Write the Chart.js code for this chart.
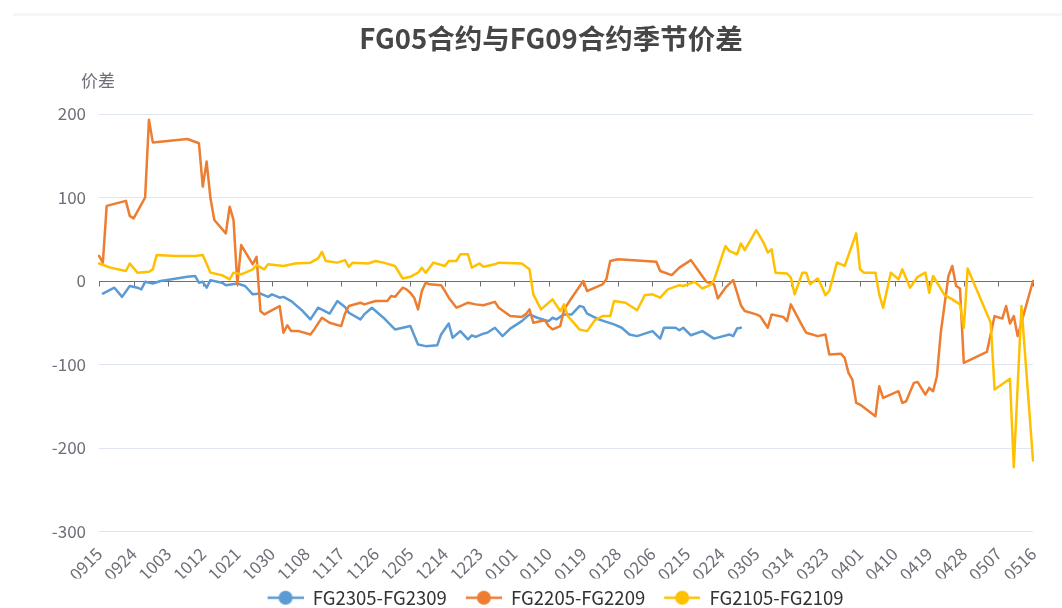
<!DOCTYPE html>
<html>
<head>
<meta charset="utf-8">
<title>FG05合约与FG09合约季节价差</title>
<script src="https://cdn.jsdelivr.net/npm/chart.js@4.4.1/dist/chart.umd.min.js"></script>
<style>
  html, body { margin: 0; padding: 0; background: #fff; }
  #wrap { position: relative; width: 1062px; height: 608px; overflow: hidden; }
  #topline { position: absolute; left: 13px; right: 0; top: 13px; height: 3px; background: #f6f6f6; }
  #c { position: absolute; left: 0; top: 0; }
</style>
</head>
<body>
<div id="wrap">
  <div id="topline"></div>
  <canvas id="c" width="1062" height="608"></canvas>
</div>
<script>
// x axis: one category per calendar day, 0915 -> 0516
const monthSpans = [['09', 15, 30], ['10', 1, 31], ['11', 1, 30], ['12', 1, 31], ['01', 1, 31],
                    ['02', 1, 28], ['03', 1, 31], ['04', 1, 30], ['05', 1, 16]];
const categories = [];
for (const [m, from, to] of monthSpans) {
  for (let d = from; d <= to; d++) categories.push(m + String(d).padStart(2, '0'));
}
const tickEvery = 9;  // label every 9th day
const yTicks = [-300, -200, -100, 0, 100, 200];

// [date, spread]
const spread2305 = [
  ['0916',-15],['0919',-8],['0921',-19],['0923',-6],['0925',-8],['0926',-10],['0927',-1],['0929',-3],
  ['1001',0],['1004',2],['1008',5],['1010',6],['1011',-2],['1012',-1],['1013',-8],['1014',1],['1017',-2],
  ['1018',-5],['1021',-3],['1023',-6],['1025',-16],['1027',-15],['1029',-19],['1030',-16],['1101',-20],
  ['1102',-19],['1104',-24],['1105',-28],['1107',-36],['1109',-46],['1111',-32],['1114',-39],['1116',-24],
  ['1118',-31],['1119',-38],['1122',-46],['1123',-40],['1125',-32],['1128',-44],['1201',-58],['1203',-56],
  ['1205',-54],['1207',-76],['1209',-78],['1212',-77],['1213',-64],['1215',-51],['1216',-68],['1218',-60],
  ['1220',-70],['1221',-65],['1222',-67],['1224',-63],['1225',-62],['1227',-56],['1229',-66],['1231',-57],
  ['0103',-48],['0105',-40],['0107',-44],['0110',-48],['0111',-44],['0112',-46],['0114',-40],['0116',-40],
  ['0118',-30],['0119',-31],['0120',-39],['0123',-46],['0127',-52],['0129',-56],['0131',-64],['0202',-66],
  ['0206',-60],['0208',-69],['0209',-56],['0212',-56],['0213',-59],['0214',-56],['0216',-65],['0219',-60],
  ['0222',-69],['0226',-64],['0227',-66],['0228',-57],['0301',-56]
];
const spread2205 = [
  ['0915',30],['0916',22],['0917',90],['0922',96],['0923',78],['0924',75],['0927',100],['0928',193],
  ['0929',166],['1008',170],['1011',165],['1012',113],['1013',143],['1014',99],['1015',73],['1018',57],
  ['1019',89],['1020',73],['1021',-4],['1022',43],['1025',20],['1026',29],['1027',-36],['1028',-40],
  ['1101',-30],['1102',-62],['1103',-53],['1104',-60],['1106',-60],['1109',-64],['1110',-58],['1112',-44],
  ['1114',-50],['1117',-54],['1118',-39],['1119',-30],['1122',-26],['1123',-28],['1126',-24],['1129',-24],
  ['1130',-18],['1201',-19],['1203',-8],['1204',-10],['1205',-14],['1206',-20],['1207',-34],['1208',-12],
  ['1209',-2],['1210',-4],['1213',-5],['1214',-12],['1215',-20],['1217',-32],['1218',-30],['1220',-26],
  ['1222',-28],['1224',-29],['1227',-25],['1228',-32],['1231',-42],['0103',-43],['0104',-40],['0105',-34],
  ['0106',-50],['0109',-47],['0110',-54],['0111',-58],['0113',-54],['0114',-34],['0116',-20],['0119',0],
  ['0120',-12],['0121',-10],['0124',-4],['0125',2],['0126',24],['0128',26],['0207',23],['0208',12],
  ['0211',7],['0213',16],['0216',25],['0218',12],['0220',-1],['0222',-4],['0223',-21],['0225',-8],
  ['0227',1],['0301',-29],['0302',-36],['0305',-40],['0306',-42],['0308',-56],['0309',-40],['0312',-43],
  ['0313',-48],['0314',-28],['0317',-54],['0318',-62],['0321',-66],['0323',-64],['0324',-88],['0327',-87],
  ['0328',-92],['0329',-110],['0330',-118],['0331',-146],['0401',-148],['0405',-162],['0406',-126],
  ['0407',-140],['0411',-132],['0412',-146],['0413',-144],['0415',-122],['0416',-121],['0418',-136],
  ['0419',-128],['0420',-132],['0421',-114],['0422',-62],['0424',6],['0425',18],['0426',-6],['0427',-9],
  ['0428',-98],['0504',-85],['0506',-42],['0508',-45],['0509',-30],['0510',-51],['0511',-42],['0512',-66],
  ['0516',0]
];
const spread2105 = [
  ['0915',21],['0918',16],['0922',12],['0923',21],['0925',10],['0928',11],['0929',14],['0930',31],
  ['1005',30],['1010',30],['1012',31],['1014',10],['1017',7],['1019',2],['1020',10],['1022',8],['1025',14],
  ['1026',19],['1028',14],['1029',20],['1102',18],['1105',21],['1109',22],['1111',27],['1112',35],
  ['1113',24],['1116',22],['1118',25],['1119',17],['1120',22],['1124',21],['1126',24],['1128',22],
  ['1201',18],['1203',3],['1205',5],['1207',10],['1208',16],['1209',10],['1211',22],['1214',18],['1215',24],
  ['1217',24],['1218',32],['1220',32],['1221',16],['1223',21],['1224',17],['1227',20],['1228',22],
  ['0103',21],['0105',14],['0106',-16],['0108',-34],['0111',-22],['0113',-36],['0114',-28],['0115',-42],
  ['0118',-58],['0120',-60],['0122',-47],['0124',-42],['0126',-42],['0127',-24],['0130',-26],['0202',-35],
  ['0204',-17],['0206',-16],['0208',-20],['0210',-10],['0213',-5],['0214',-6],['0217',-1],['0219',-9],
  ['0221',-5],['0222',1],['0225',42],['0226',36],['0228',32],['0301',45],['0302',37],['0305',61],
  ['0307',45],['0308',34],['0309',38],['0310',10],['0313',9],['0314',4],['0315',-16],['0317',10],
  ['0318',10],['0319',-4],['0321',3],['0322',-6],['0323',-17],['0324',-12],['0326',22],['0328',18],
  ['0331',57],['0401',14],['0402',10],['0405',10],['0406',-16],['0407',-32],['0409',10],['0411',2],
  ['0412',14],['0414',-8],['0416',5],['0418',10],['0419',-14],['0420',6],['0423',-17],['0425',-22],
  ['0427',-28],['0428',-56],['0429',15],['0505',-50],['0506',-130],['0510',-117],['0511',-223],
  ['0513',-30],['0516',-215]
];

const FONT = "'Noto Sans CJK SC', 'Noto Sans', sans-serif";
Chart.defaults.font.family = FONT;

const toPoints = arr => arr.map(([x, y]) => ({x, y}));

// legend marker: short line with a dot, left part of the canvas left blank as item gap
function legendIcon(color) {
  const c = document.createElement('canvas');
  c.width = 45; c.height = 16;
  const g = c.getContext('2d');
  g.strokeStyle = color; g.lineWidth = 2.5;
  g.beginPath(); g.moveTo(9, 8); g.lineTo(45, 8); g.stroke();
  g.fillStyle = color;
  g.beginPath(); g.arc(27, 8, 7, 0, Math.PI * 2); g.fill();
  return c;
}

const CENTER_X = 551;  // title and legend sit centred here in the original

const extras = {
  id: 'extras',
  afterLayout(chart) {
    for (const box of [chart.legend, chart.titleBlock]) {
      if (!box) continue;
      const shift = CENTER_X - (box.left + box.right) / 2;
      box.left += shift;
      box.right += shift;
    }
  },
  beforeDatasetsDraw(chart) {
    // little ticks hanging off the zero line
    const {ctx, scales: {x, y}} = chart;
    const y0 = Math.round(y.getPixelForValue(0)) + 0.5;
    ctx.save();
    ctx.strokeStyle = '#6E7079';
    ctx.lineWidth = 1;
    ctx.beginPath();
    for (let i = 0; i < categories.length; i += tickEvery) {
      const px = Math.round(x.getPixelForValue(i)) + 0.5;
      ctx.moveTo(px, y0);
      ctx.lineTo(px, y0 + 5);
    }
    ctx.stroke();
    ctx.restore();
  },
  afterDraw(chart) {
    const {ctx} = chart;
    ctx.save();
    ctx.font = '17px ' + FONT;
    ctx.fillStyle = '#6E7079';
    ctx.textAlign = 'center';
    ctx.textBaseline = 'middle';
    ctx.fillText('价差', 98, 81);
    ctx.restore();
  }
};

new Chart(document.getElementById('c'), {
  type: 'line',
  data: {
    labels: categories,
    datasets: [
      {label: 'FG2305-FG2309', data: toPoints(spread2305), borderColor: '#5B9BD5', backgroundColor: '#5B9BD5', order: 2},
      {label: 'FG2205-FG2209', data: toPoints(spread2205), borderColor: '#ED7D31', backgroundColor: '#ED7D31', order: 1},
      {label: 'FG2105-FG2109', data: toPoints(spread2105), borderColor: '#FFC000', backgroundColor: '#FFC000', order: 0}
    ]
  },
  options: {
    responsive: false,
    animation: false,
    layout: {padding: {left: 40, right: 29, top: 0, bottom: -9}},
    elements: {
      line: {borderWidth: 2.5, tension: 0, borderJoinStyle: 'round', borderCapStyle: 'round'},
      point: {radius: 0, hoverRadius: 0}
    },
    plugins: {
      title: {
        display: true,
        text: 'FG05合约与FG09合约季节价差',
        color: '#464646',
        font: {size: 27.5, weight: 'bold', family: FONT},
        padding: {top: 22, bottom: 59}
      },
      legend: {
        position: 'bottom',
        labels: {
          usePointStyle: true,
          pointStyleWidth: 45,
          boxHeight: 16,
          padding: 10,
          color: '#333',
          font: {size: 18.5, family: FONT},
          sort: (a, b) => a.datasetIndex - b.datasetIndex,
          generateLabels(chart) {
            const items = Chart.defaults.plugins.legend.labels.generateLabels(chart);
            items.forEach(it => { it.pointStyle = legendIcon(chart.data.datasets[it.datasetIndex].borderColor); });
            return items;
          }
        }
      },
      tooltip: {enabled: false}
    },
    scales: {
      x: {
        type: 'category',
        offset: false,
        afterFit: s => { s.height = 47; },
        grid: {display: false},
        border: {display: false},
        ticks: {
          autoSkip: false,
          maxRotation: 45,
          minRotation: 45,
          padding: 4,
          color: '#6E7079',
          font: {size: 17},
          callback: (v, i) => (i % tickEvery === 0 ? categories[i] : null)
        }
      },
      y: {
        min: yTicks[0],
        max: yTicks[yTicks.length - 1],
        afterFit: s => { s.width = 59; },
        afterBuildTicks: s => { s.ticks = yTicks.map(v => ({value: v})); },
        border: {display: false},
        grid: {
          drawTicks: false,
          color: c => (c.tick && c.tick.value === 0 ? '#6E7079' : '#E0E6F1'),
          lineWidth: 1
        },
        ticks: {padding: 13, color: '#6E7079', font: {size: 17}}
      }
    }
  },
  plugins: [extras]
});
</script>
</body>
</html>
